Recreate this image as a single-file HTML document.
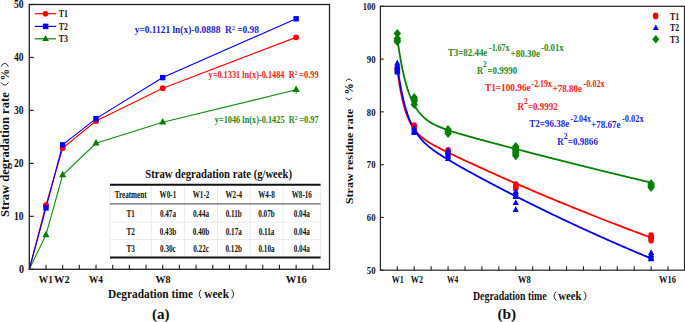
<!DOCTYPE html>
<html><head><meta charset="utf-8"><style>
html,body{margin:0;padding:0;background:#fff;}
svg{display:block;}
text{font-family:"Liberation Serif",serif;font-weight:bold;}
</style></head><body>
<svg width="685" height="322" viewBox="0 0 685 322">
<rect width="685" height="322" fill="#fff"/>
<rect x="29.3" y="4.5" width="300.2" height="264.8" fill="none" stroke="#222" stroke-width="1.3"/>
<line x1="29.3" y1="269.30" x2="33.7" y2="269.30" stroke="#222" stroke-width="1.2"/>
<text x="24.1" y="273.2" font-size="11.6" fill="#111" text-anchor="end" textLength="5.0" lengthAdjust="spacingAndGlyphs" >0</text>
<line x1="29.3" y1="216.34" x2="33.7" y2="216.34" stroke="#222" stroke-width="1.2"/>
<text x="23.6" y="220.24" font-size="11.6" fill="#111" text-anchor="end" textLength="9.6" lengthAdjust="spacingAndGlyphs" >10</text>
<line x1="29.3" y1="163.38" x2="33.7" y2="163.38" stroke="#222" stroke-width="1.2"/>
<text x="23.6" y="167.28" font-size="11.6" fill="#111" text-anchor="end" textLength="9.6" lengthAdjust="spacingAndGlyphs" >20</text>
<line x1="29.3" y1="110.42" x2="33.7" y2="110.42" stroke="#222" stroke-width="1.2"/>
<text x="23.6" y="114.32" font-size="11.6" fill="#111" text-anchor="end" textLength="9.6" lengthAdjust="spacingAndGlyphs" >30</text>
<line x1="29.3" y1="57.46" x2="33.7" y2="57.46" stroke="#222" stroke-width="1.2"/>
<text x="23.6" y="61.36" font-size="11.6" fill="#111" text-anchor="end" textLength="9.6" lengthAdjust="spacingAndGlyphs" >40</text>
<line x1="29.3" y1="4.50" x2="33.7" y2="4.50" stroke="#222" stroke-width="1.2"/>
<text x="23.6" y="8.4" font-size="11.6" fill="#111" text-anchor="end" textLength="9.6" lengthAdjust="spacingAndGlyphs" >50</text>
<line x1="45.98" y1="269.3" x2="45.98" y2="264.8" stroke="#222" stroke-width="1.1"/>
<line x1="62.66" y1="269.3" x2="62.66" y2="264.8" stroke="#222" stroke-width="1.1"/>
<line x1="79.33" y1="269.3" x2="79.33" y2="264.8" stroke="#222" stroke-width="1.1"/>
<line x1="96.01" y1="269.3" x2="96.01" y2="264.8" stroke="#222" stroke-width="1.1"/>
<line x1="112.69" y1="269.3" x2="112.69" y2="264.8" stroke="#222" stroke-width="1.1"/>
<line x1="129.37" y1="269.3" x2="129.37" y2="264.8" stroke="#222" stroke-width="1.1"/>
<line x1="146.04" y1="269.3" x2="146.04" y2="264.8" stroke="#222" stroke-width="1.1"/>
<line x1="162.72" y1="269.3" x2="162.72" y2="264.8" stroke="#222" stroke-width="1.1"/>
<line x1="179.40" y1="269.3" x2="179.40" y2="264.8" stroke="#222" stroke-width="1.1"/>
<line x1="196.08" y1="269.3" x2="196.08" y2="264.8" stroke="#222" stroke-width="1.1"/>
<line x1="212.76" y1="269.3" x2="212.76" y2="264.8" stroke="#222" stroke-width="1.1"/>
<line x1="229.43" y1="269.3" x2="229.43" y2="264.8" stroke="#222" stroke-width="1.1"/>
<line x1="246.11" y1="269.3" x2="246.11" y2="264.8" stroke="#222" stroke-width="1.1"/>
<line x1="262.79" y1="269.3" x2="262.79" y2="264.8" stroke="#222" stroke-width="1.1"/>
<line x1="279.47" y1="269.3" x2="279.47" y2="264.8" stroke="#222" stroke-width="1.1"/>
<line x1="296.14" y1="269.3" x2="296.14" y2="264.8" stroke="#222" stroke-width="1.1"/>
<line x1="312.82" y1="269.3" x2="312.82" y2="264.8" stroke="#222" stroke-width="1.1"/>
<text x="38.8" y="283.3" font-size="11" fill="#111" text-anchor="start" textLength="14.0" lengthAdjust="spacingAndGlyphs" >W1</text>
<text x="54" y="283.3" font-size="11" fill="#111" text-anchor="start" textLength="15.7" lengthAdjust="spacingAndGlyphs" >W2</text>
<text x="89" y="283.3" font-size="11" fill="#111" text-anchor="start" textLength="14" lengthAdjust="spacingAndGlyphs" >W4</text>
<text x="155.4" y="283.3" font-size="11" fill="#111" text-anchor="start" textLength="15.2" lengthAdjust="spacingAndGlyphs" >W8</text>
<text x="285.7" y="283.3" font-size="11" fill="#111" text-anchor="start" textLength="21.0" lengthAdjust="spacingAndGlyphs" >W16</text>
<polyline points="29.30,269.30 45.98,234.88 62.66,175.03 96.01,143.26 162.72,122.28 296.14,89.77" fill="none" stroke="#109010" stroke-width="1.15"/>
<polyline points="29.30,269.30 45.98,205.22 62.66,148.02 96.01,121.01 162.72,88.18 296.14,37.34" fill="none" stroke="#ff0000" stroke-width="1.15"/>
<polyline points="29.30,269.30 45.98,207.87 62.66,144.84 96.01,118.63 162.72,77.58 296.14,18.80" fill="none" stroke="#0000ff" stroke-width="1.15"/>
<line x1="296.14" y1="90.77" x2="296.14" y2="93.97" stroke="#008000" stroke-width="0.8"/>
<polygon points="45.98,230.72 42.38,237.22 49.58,237.22" fill="#008000"/>
<polygon points="62.66,170.87 59.06,177.37 66.26,177.37" fill="#008000"/>
<polygon points="96.01,139.10 92.41,145.60 99.61,145.60" fill="#008000"/>
<polygon points="162.72,118.12 159.12,124.62 166.32,124.62" fill="#008000"/>
<polygon points="296.14,85.61 292.54,92.11 299.74,92.11" fill="#008000"/>
<circle cx="45.98" cy="205.22" r="2.95" fill="#ff0000"/>
<circle cx="62.66" cy="148.02" r="2.95" fill="#ff0000"/>
<circle cx="96.01" cy="121.01" r="2.95" fill="#ff0000"/>
<circle cx="162.72" cy="88.18" r="2.95" fill="#ff0000"/>
<circle cx="296.14" cy="37.34" r="2.95" fill="#ff0000"/>
<rect x="43.28" y="205.17" width="5.4" height="5.4" fill="#0000ff"/>
<rect x="59.96" y="142.14" width="5.4" height="5.4" fill="#0000ff"/>
<rect x="93.31" y="115.93" width="5.4" height="5.4" fill="#0000ff"/>
<rect x="160.02" y="74.88" width="5.4" height="5.4" fill="#0000ff"/>
<rect x="293.44" y="16.10" width="5.4" height="5.4" fill="#0000ff"/>
<line x1="34.7" y1="13.7" x2="56.1" y2="13.7" stroke="#ff0000" stroke-width="1.2"/>
<circle cx="45.5" cy="13.7" r="2.8" fill="#ff0000"/>
<text x="58.8" y="17.0" font-size="10" fill="#111" text-anchor="start" textLength="9.1" lengthAdjust="spacingAndGlyphs" >T1</text>
<line x1="34.7" y1="26.4" x2="56.1" y2="26.4" stroke="#0000ff" stroke-width="1.2"/>
<rect x="42.9" y="23.599999999999998" width="5.5" height="5.5" fill="#0000ff"/>
<text x="58.8" y="29.7" font-size="10" fill="#111" text-anchor="start" textLength="9.1" lengthAdjust="spacingAndGlyphs" >T2</text>
<line x1="34.7" y1="38.8" x2="56.1" y2="38.8" stroke="#008000" stroke-width="1.2"/>
<polygon points="45.60,34.90 42.30,41.00 48.90,41.00" fill="#008000"/>
<text x="58.8" y="42.099999999999994" font-size="10" fill="#111" text-anchor="start" textLength="9.1" lengthAdjust="spacingAndGlyphs" >T3</text>
<text x="134.7" y="33" font-size="10.5" fill="#2323d0" text-anchor="start" textLength="124.3" lengthAdjust="spacingAndGlyphs" >y=0.1121 ln(x)-0.0888&#160;&#160;R<tspan font-size="6.5" dy="-3.5">2</tspan><tspan dy="3.5"> =0.98</tspan></text>
<text x="208.5" y="78" font-size="9.6" fill="#ee1c1c" text-anchor="start" textLength="110.1" lengthAdjust="spacingAndGlyphs" >y=0.1331 ln(x)-0.1484&#160;&#160;R<tspan font-size="6" dy="-3.2">2</tspan><tspan dy="3.2"> =0.99</tspan></text>
<text x="214.8" y="123" font-size="9.6" fill="#238a23" text-anchor="start" textLength="103.8" lengthAdjust="spacingAndGlyphs" >y=1046 ln(x)-0.1425&#160;&#160;R<tspan font-size="6" dy="-3.2">2</tspan><tspan dy="3.2"> =0.97</tspan></text>
<text x="145.3" y="177.8" font-size="12" fill="#111" text-anchor="start" textLength="146.7" lengthAdjust="spacingAndGlyphs" >Straw degradation rate (g/week)</text>
<line x1="110" y1="185.5" x2="110" y2="256.5" stroke="#e6e6e6" stroke-width="0.8"/>
<line x1="151.3" y1="185.5" x2="151.3" y2="256.5" stroke="#e6e6e6" stroke-width="0.8"/>
<line x1="184.6" y1="185.5" x2="184.6" y2="256.5" stroke="#e6e6e6" stroke-width="0.8"/>
<line x1="217.5" y1="185.5" x2="217.5" y2="256.5" stroke="#e6e6e6" stroke-width="0.8"/>
<line x1="250" y1="185.5" x2="250" y2="256.5" stroke="#e6e6e6" stroke-width="0.8"/>
<line x1="283" y1="185.5" x2="283" y2="256.5" stroke="#e6e6e6" stroke-width="0.8"/>
<line x1="320.6" y1="185.5" x2="320.6" y2="256.5" stroke="#e6e6e6" stroke-width="0.8"/>
<line x1="110" y1="222.2" x2="320.6" y2="222.2" stroke="#e6e6e6" stroke-width="0.8"/>
<line x1="110" y1="239.5" x2="320.6" y2="239.5" stroke="#e6e6e6" stroke-width="0.8"/>
<line x1="110" y1="184.8" x2="320.6" y2="184.8" stroke="#111" stroke-width="2"/>
<line x1="110" y1="203.9" x2="320.6" y2="203.9" stroke="#444" stroke-width="1"/>
<line x1="110" y1="257.5" x2="320.6" y2="257.5" stroke="#111" stroke-width="2"/>
<text x="130.65" y="198.3" font-size="9.3" fill="#111" text-anchor="middle" textLength="31.95" lengthAdjust="spacingAndGlyphs" >Treatment</text>
<text x="167.95" y="198.3" font-size="9.3" fill="#111" text-anchor="middle" textLength="16.71" lengthAdjust="spacingAndGlyphs" >W0-1</text>
<text x="201.05" y="198.3" font-size="9.3" fill="#111" text-anchor="middle" textLength="16.71" lengthAdjust="spacingAndGlyphs" >W1-2</text>
<text x="233.75" y="198.3" font-size="9.3" fill="#111" text-anchor="middle" textLength="16.71" lengthAdjust="spacingAndGlyphs" >W2-4</text>
<text x="266.5" y="198.3" font-size="9.3" fill="#111" text-anchor="middle" textLength="16.71" lengthAdjust="spacingAndGlyphs" >W4-8</text>
<text x="301.8" y="198.3" font-size="9.3" fill="#111" text-anchor="middle" textLength="20.29" lengthAdjust="spacingAndGlyphs" >W8-16</text>
<text x="130.65" y="217.3" font-size="9.3" fill="#111" text-anchor="middle" textLength="8.36" lengthAdjust="spacingAndGlyphs" >T1</text>
<text x="167.95" y="217.3" font-size="9.3" fill="#111" text-anchor="middle" textLength="16.11" lengthAdjust="spacingAndGlyphs" >0.47a</text>
<text x="201.05" y="217.3" font-size="9.3" fill="#111" text-anchor="middle" textLength="16.11" lengthAdjust="spacingAndGlyphs" >0.44a</text>
<text x="233.75" y="217.3" font-size="9.3" fill="#111" text-anchor="middle" textLength="16.12" lengthAdjust="spacingAndGlyphs" >0.11b</text>
<text x="266.5" y="217.3" font-size="9.3" fill="#111" text-anchor="middle" textLength="16.51" lengthAdjust="spacingAndGlyphs" >0.07b</text>
<text x="301.8" y="217.3" font-size="9.3" fill="#111" text-anchor="middle" textLength="16.11" lengthAdjust="spacingAndGlyphs" >0.04a</text>
<text x="130.65" y="234.7" font-size="9.3" fill="#111" text-anchor="middle" textLength="8.36" lengthAdjust="spacingAndGlyphs" >T2</text>
<text x="167.95" y="234.7" font-size="9.3" fill="#111" text-anchor="middle" textLength="16.51" lengthAdjust="spacingAndGlyphs" >0.43b</text>
<text x="201.05" y="234.7" font-size="9.3" fill="#111" text-anchor="middle" textLength="16.51" lengthAdjust="spacingAndGlyphs" >0.40b</text>
<text x="233.75" y="234.7" font-size="9.3" fill="#111" text-anchor="middle" textLength="16.11" lengthAdjust="spacingAndGlyphs" >0.17a</text>
<text x="266.5" y="234.7" font-size="9.3" fill="#111" text-anchor="middle" textLength="15.72" lengthAdjust="spacingAndGlyphs" >0.11a</text>
<text x="301.8" y="234.7" font-size="9.3" fill="#111" text-anchor="middle" textLength="16.11" lengthAdjust="spacingAndGlyphs" >0.04a</text>
<text x="130.65" y="252" font-size="9.3" fill="#111" text-anchor="middle" textLength="8.36" lengthAdjust="spacingAndGlyphs" >T3</text>
<text x="167.95" y="252" font-size="9.3" fill="#111" text-anchor="middle" textLength="15.71" lengthAdjust="spacingAndGlyphs" >0.30c</text>
<text x="201.05" y="252" font-size="9.3" fill="#111" text-anchor="middle" textLength="15.71" lengthAdjust="spacingAndGlyphs" >0.22c</text>
<text x="233.75" y="252" font-size="9.3" fill="#111" text-anchor="middle" textLength="16.51" lengthAdjust="spacingAndGlyphs" >0.12b</text>
<text x="266.5" y="252" font-size="9.3" fill="#111" text-anchor="middle" textLength="16.11" lengthAdjust="spacingAndGlyphs" >0.10a</text>
<text x="301.8" y="252" font-size="9.3" fill="#111" text-anchor="middle" textLength="16.11" lengthAdjust="spacingAndGlyphs" >0.04a</text>
<g transform="translate(9.0,217) rotate(-90)">
<text x="0" y="0" font-size="12.4" fill="#111" text-anchor="start" textLength="124.7" lengthAdjust="spacingAndGlyphs" >Straw degradation rate</text>
<text x="136.6" y="-0.3" font-size="12.4" fill="#111" text-anchor="start" textLength="11.6" lengthAdjust="spacingAndGlyphs" >%</text>
</g>
<path d="M1.05,82.35 Q4.75,87.95 8.45,82.35" fill="none" stroke="#111" stroke-width="0.9"/>
<path d="M1.05,66.55 Q4.75,59.95 8.45,66.55" fill="none" stroke="#111" stroke-width="0.9"/>
<text x="108" y="298.2" font-size="12.4" fill="#111" text-anchor="start" textLength="85" lengthAdjust="spacingAndGlyphs" >Degradation time</text>
<path d="M201.05,289.65 Q197.25,294.05 201.05,298.45" fill="none" stroke="#111" stroke-width="0.9"/>
<path d="M231.65,289.65 Q235.45,294.05 231.65,298.45" fill="none" stroke="#111" stroke-width="0.9"/>
<text x="204.3" y="297.9" font-size="12.4" fill="#111" text-anchor="start" textLength="24.7" lengthAdjust="spacingAndGlyphs" >week</text>
<text x="152" y="318.6" font-size="14" fill="#111" text-anchor="start" textLength="17.6" lengthAdjust="spacingAndGlyphs" >(a)</text>
<rect x="380.4" y="6.3" width="304.1" height="263.9" fill="none" stroke="#222" stroke-width="1.2"/>
<line x1="380.4" y1="270.20" x2="383.79999999999995" y2="270.20" stroke="#222" stroke-width="1.1"/>
<text x="375.5" y="274.0" font-size="10.4" fill="#111" text-anchor="end" textLength="8.7" lengthAdjust="spacingAndGlyphs" >50</text>
<line x1="380.4" y1="217.42" x2="383.79999999999995" y2="217.42" stroke="#222" stroke-width="1.1"/>
<text x="375.5" y="221.22" font-size="10.4" fill="#111" text-anchor="end" textLength="8.7" lengthAdjust="spacingAndGlyphs" >60</text>
<line x1="380.4" y1="164.64" x2="383.79999999999995" y2="164.64" stroke="#222" stroke-width="1.1"/>
<text x="375.5" y="168.44" font-size="10.4" fill="#111" text-anchor="end" textLength="8.7" lengthAdjust="spacingAndGlyphs" >70</text>
<line x1="380.4" y1="111.86" x2="383.79999999999995" y2="111.86" stroke="#222" stroke-width="1.1"/>
<text x="375.5" y="115.66" font-size="10.4" fill="#111" text-anchor="end" textLength="8.7" lengthAdjust="spacingAndGlyphs" >80</text>
<line x1="380.4" y1="59.08" x2="383.79999999999995" y2="59.08" stroke="#222" stroke-width="1.1"/>
<text x="375.5" y="62.88" font-size="10.4" fill="#111" text-anchor="end" textLength="8.7" lengthAdjust="spacingAndGlyphs" >90</text>
<line x1="380.4" y1="6.30" x2="383.79999999999995" y2="6.30" stroke="#222" stroke-width="1.1"/>
<text x="375.5" y="10.1" font-size="10.4" fill="#111" text-anchor="end" textLength="12.7" lengthAdjust="spacingAndGlyphs" >100</text>
<line x1="397.32" y1="270.2" x2="397.32" y2="266.2" stroke="#222" stroke-width="1.1"/>
<line x1="414.24" y1="270.2" x2="414.24" y2="266.2" stroke="#222" stroke-width="1.1"/>
<line x1="431.16" y1="270.2" x2="431.16" y2="266.2" stroke="#222" stroke-width="1.1"/>
<line x1="448.08" y1="270.2" x2="448.08" y2="266.2" stroke="#222" stroke-width="1.1"/>
<line x1="465.00" y1="270.2" x2="465.00" y2="266.2" stroke="#222" stroke-width="1.1"/>
<line x1="481.92" y1="270.2" x2="481.92" y2="266.2" stroke="#222" stroke-width="1.1"/>
<line x1="498.84" y1="270.2" x2="498.84" y2="266.2" stroke="#222" stroke-width="1.1"/>
<line x1="515.76" y1="270.2" x2="515.76" y2="266.2" stroke="#222" stroke-width="1.1"/>
<line x1="532.68" y1="270.2" x2="532.68" y2="266.2" stroke="#222" stroke-width="1.1"/>
<line x1="549.60" y1="270.2" x2="549.60" y2="266.2" stroke="#222" stroke-width="1.1"/>
<line x1="566.52" y1="270.2" x2="566.52" y2="266.2" stroke="#222" stroke-width="1.1"/>
<line x1="583.44" y1="270.2" x2="583.44" y2="266.2" stroke="#222" stroke-width="1.1"/>
<line x1="600.36" y1="270.2" x2="600.36" y2="266.2" stroke="#222" stroke-width="1.1"/>
<line x1="617.28" y1="270.2" x2="617.28" y2="266.2" stroke="#222" stroke-width="1.1"/>
<line x1="634.20" y1="270.2" x2="634.20" y2="266.2" stroke="#222" stroke-width="1.1"/>
<line x1="651.12" y1="270.2" x2="651.12" y2="266.2" stroke="#222" stroke-width="1.1"/>
<line x1="668.04" y1="270.2" x2="668.04" y2="266.2" stroke="#222" stroke-width="1.1"/>
<text x="391.7" y="283" font-size="9.5" fill="#111" text-anchor="start" textLength="12.1" lengthAdjust="spacingAndGlyphs" >W1</text>
<text x="410.8" y="283" font-size="9.5" fill="#111" text-anchor="start" textLength="12.4" lengthAdjust="spacingAndGlyphs" >W2</text>
<text x="447" y="283" font-size="9.5" fill="#111" text-anchor="start" textLength="11.3" lengthAdjust="spacingAndGlyphs" >W4</text>
<text x="517.9" y="283" font-size="9.5" fill="#111" text-anchor="start" textLength="12.8" lengthAdjust="spacingAndGlyphs" >W8</text>
<text x="659" y="283" font-size="9.5" fill="#111" text-anchor="start" textLength="17" lengthAdjust="spacingAndGlyphs" >W16</text>
<polyline points="397.32,38.28 398.60,47.33 399.87,55.43 401.15,62.66 402.42,69.14 403.70,74.93 404.97,80.13 406.25,84.79 407.52,88.97 408.80,92.73 410.07,96.12 411.35,99.16 412.62,101.91 413.90,104.40 415.18,106.65 416.45,108.68 417.73,110.54 419.00,112.22 420.28,113.76 421.55,115.17 422.83,116.46 424.10,117.64 425.38,118.74 426.65,119.75 427.93,120.69 429.20,121.56 430.48,122.38 431.76,123.14 433.03,123.86 434.31,124.54 435.58,125.18 436.86,125.78 438.13,126.36 439.41,126.92 440.68,127.45 441.96,127.96 443.23,128.45 444.51,128.93 445.78,129.39 447.06,129.84 448.34,130.28 449.61,130.70 450.89,131.12 452.16,131.53 453.44,131.93 454.71,132.33 455.99,132.72 457.26,133.10 458.54,133.49 459.81,133.86 461.09,134.23 462.36,134.60 463.64,134.97 464.91,135.33 466.19,135.69 467.47,136.05 468.74,136.41 470.02,136.76 471.29,137.12 472.57,137.47 473.84,137.82 475.12,138.17 476.39,138.52 477.67,138.86 478.94,139.21 480.22,139.56 481.49,139.90 482.77,140.24 484.05,140.59 485.32,140.93 486.60,141.27 487.87,141.61 489.15,141.95 490.42,142.29 491.70,142.63 492.97,142.97 494.25,143.31 495.52,143.65 496.80,143.98 498.07,144.32 499.35,144.66 500.63,144.99 501.90,145.33 503.18,145.67 504.45,146.00 505.73,146.34 507.00,146.67 508.28,147.00 509.55,147.34 510.83,147.67 512.10,148.01 513.38,148.34 514.65,148.67 515.93,149.00 517.21,149.34 518.48,149.67 519.76,150.00 521.03,150.33 522.31,150.66 523.58,150.99 524.86,151.32 526.13,151.65 527.41,151.98 528.68,152.31 529.96,152.64 531.23,152.97 532.51,153.30 533.79,153.63 535.06,153.95 536.34,154.28 537.61,154.61 538.89,154.94 540.16,155.26 541.44,155.59 542.71,155.92 543.99,156.24 545.26,156.57 546.54,156.89 547.81,157.22 549.09,157.54 550.37,157.87 551.64,158.19 552.92,158.52 554.19,158.84 555.47,159.16 556.74,159.49 558.02,159.81 559.29,160.13 560.57,160.46 561.84,160.78 563.12,161.10 564.39,161.42 565.67,161.74 566.95,162.06 568.22,162.38 569.50,162.70 570.77,163.02 572.05,163.34 573.32,163.66 574.60,163.98 575.87,164.30 577.15,164.62 578.42,164.94 579.70,165.26 580.97,165.58 582.25,165.89 583.53,166.21 584.80,166.53 586.08,166.84 587.35,167.16 588.63,167.48 589.90,167.79 591.18,168.11 592.45,168.42 593.73,168.74 595.00,169.06 596.28,169.37 597.55,169.68 598.83,170.00 600.10,170.31 601.38,170.63 602.66,170.94 603.93,171.25 605.21,171.56 606.48,171.88 607.76,172.19 609.03,172.50 610.31,172.81 611.58,173.12 612.86,173.44 614.13,173.75 615.41,174.06 616.68,174.37 617.96,174.68 619.24,174.99 620.51,175.30 621.79,175.61 623.06,175.92 624.34,176.22 625.61,176.53 626.89,176.84 628.16,177.15 629.44,177.46 630.71,177.76 631.99,178.07 633.26,178.38 634.54,178.68 635.82,178.99 637.09,179.30 638.37,179.60 639.64,179.91 640.92,180.21 642.19,180.52 643.47,180.82 644.74,181.13 646.02,181.43 647.29,181.74 648.57,182.04 649.84,182.34 651.12,182.65" fill="none" stroke="#008000" stroke-width="1.8"/>
<polyline points="397.32,69.61 398.60,78.82 399.87,86.77 401.15,93.64 402.42,99.59 403.70,104.75 404.97,109.25 406.25,113.18 407.52,116.63 408.80,119.65 410.07,122.33 411.35,124.70 412.62,126.82 413.90,128.71 415.18,130.42 416.45,131.97 417.73,133.38 419.00,134.68 420.28,135.88 421.55,136.99 422.83,138.03 424.10,139.00 425.38,139.93 426.65,140.81 427.93,141.65 429.20,142.45 430.48,143.23 431.76,143.98 433.03,144.72 434.31,145.43 435.58,146.13 436.86,146.81 438.13,147.49 439.41,148.15 440.68,148.81 441.96,149.45 443.23,150.10 444.51,150.73 445.78,151.36 447.06,151.99 448.34,152.61 449.61,153.23 450.89,153.84 452.16,154.46 453.44,155.07 454.71,155.67 455.99,156.28 457.26,156.88 458.54,157.49 459.81,158.09 461.09,158.68 462.36,159.28 463.64,159.88 464.91,160.47 466.19,161.07 467.47,161.66 468.74,162.25 470.02,162.84 471.29,163.43 472.57,164.02 473.84,164.60 475.12,165.19 476.39,165.77 477.67,166.36 478.94,166.94 480.22,167.52 481.49,168.10 482.77,168.68 484.05,169.26 485.32,169.84 486.60,170.42 487.87,170.99 489.15,171.57 490.42,172.14 491.70,172.71 492.97,173.29 494.25,173.86 495.52,174.43 496.80,175.00 498.07,175.57 499.35,176.13 500.63,176.70 501.90,177.27 503.18,177.83 504.45,178.40 505.73,178.96 507.00,179.52 508.28,180.08 509.55,180.64 510.83,181.20 512.10,181.76 513.38,182.32 514.65,182.88 515.93,183.43 517.21,183.99 518.48,184.54 519.76,185.10 521.03,185.65 522.31,186.20 523.58,186.75 524.86,187.30 526.13,187.85 527.41,188.40 528.68,188.95 529.96,189.49 531.23,190.04 532.51,190.58 533.79,191.13 535.06,191.67 536.34,192.21 537.61,192.76 538.89,193.30 540.16,193.84 541.44,194.37 542.71,194.91 543.99,195.45 545.26,195.99 546.54,196.52 547.81,197.06 549.09,197.59 550.37,198.12 551.64,198.65 552.92,199.19 554.19,199.72 555.47,200.25 556.74,200.77 558.02,201.30 559.29,201.83 560.57,202.36 561.84,202.88 563.12,203.40 564.39,203.93 565.67,204.45 566.95,204.97 568.22,205.49 569.50,206.01 570.77,206.53 572.05,207.05 573.32,207.57 574.60,208.09 575.87,208.60 577.15,209.12 578.42,209.63 579.70,210.15 580.97,210.66 582.25,211.17 583.53,211.68 584.80,212.20 586.08,212.71 587.35,213.21 588.63,213.72 589.90,214.23 591.18,214.74 592.45,215.24 593.73,215.75 595.00,216.25 596.28,216.75 597.55,217.26 598.83,217.76 600.10,218.26 601.38,218.76 602.66,219.26 603.93,219.76 605.21,220.26 606.48,220.75 607.76,221.25 609.03,221.74 610.31,222.24 611.58,222.73 612.86,223.23 614.13,223.72 615.41,224.21 616.68,224.70 617.96,225.19 619.24,225.68 620.51,226.17 621.79,226.65 623.06,227.14 624.34,227.63 625.61,228.11 626.89,228.60 628.16,229.08 629.44,229.56 630.71,230.05 631.99,230.53 633.26,231.01 634.54,231.49 635.82,231.97 637.09,232.45 638.37,232.92 639.64,233.40 640.92,233.88 642.19,234.35 643.47,234.83 644.74,235.30 646.02,235.77 647.29,236.25 648.57,236.72 649.84,237.19 651.12,237.66" fill="none" stroke="#ff0000" stroke-width="1.8"/>
<polyline points="397.32,66.16 398.60,74.89 399.87,82.63 401.15,89.51 402.42,95.62 403.70,101.08 404.97,105.95 406.25,110.31 407.52,114.22 408.80,117.74 410.07,120.92 411.35,123.80 412.62,126.41 413.90,128.79 415.18,130.97 416.45,132.97 417.73,134.81 419.00,136.52 420.28,138.11 421.55,139.59 422.83,140.98 424.10,142.29 425.38,143.53 426.65,144.70 427.93,145.82 429.20,146.89 430.48,147.92 431.76,148.91 433.03,149.87 434.31,150.80 435.58,151.70 436.86,152.58 438.13,153.44 439.41,154.28 440.68,155.11 441.96,155.92 443.23,156.73 444.51,157.52 445.78,158.30 447.06,159.07 448.34,159.83 449.61,160.59 450.89,161.34 452.16,162.08 453.44,162.82 454.71,163.56 455.99,164.29 457.26,165.01 458.54,165.74 459.81,166.46 461.09,167.17 462.36,167.89 463.64,168.60 464.91,169.31 466.19,170.01 467.47,170.72 468.74,171.42 470.02,172.12 471.29,172.82 472.57,173.51 473.84,174.21 475.12,174.90 476.39,175.59 477.67,176.28 478.94,176.97 480.22,177.65 481.49,178.34 482.77,179.02 484.05,179.70 485.32,180.38 486.60,181.06 487.87,181.74 489.15,182.41 490.42,183.09 491.70,183.76 492.97,184.43 494.25,185.11 495.52,185.77 496.80,186.44 498.07,187.11 499.35,187.77 500.63,188.44 501.90,189.10 503.18,189.76 504.45,190.42 505.73,191.08 507.00,191.74 508.28,192.40 509.55,193.05 510.83,193.70 512.10,194.36 513.38,195.01 514.65,195.66 515.93,196.31 517.21,196.95 518.48,197.60 519.76,198.24 521.03,198.89 522.31,199.53 523.58,200.17 524.86,200.81 526.13,201.45 527.41,202.09 528.68,202.73 529.96,203.36 531.23,203.99 532.51,204.63 533.79,205.26 535.06,205.89 536.34,206.52 537.61,207.15 538.89,207.77 540.16,208.40 541.44,209.02 542.71,209.65 543.99,210.27 545.26,210.89 546.54,211.51 547.81,212.13 549.09,212.74 550.37,213.36 551.64,213.97 552.92,214.59 554.19,215.20 555.47,215.81 556.74,216.42 558.02,217.03 559.29,217.64 560.57,218.24 561.84,218.85 563.12,219.45 564.39,220.06 565.67,220.66 566.95,221.26 568.22,221.86 569.50,222.46 570.77,223.05 572.05,223.65 573.32,224.25 574.60,224.84 575.87,225.43 577.15,226.02 578.42,226.61 579.70,227.20 580.97,227.79 582.25,228.38 583.53,228.96 584.80,229.55 586.08,230.13 587.35,230.72 588.63,231.30 589.90,231.88 591.18,232.46 592.45,233.04 593.73,233.61 595.00,234.19 596.28,234.76 597.55,235.34 598.83,235.91 600.10,236.48 601.38,237.05 602.66,237.62 603.93,238.19 605.21,238.76 606.48,239.32 607.76,239.89 609.03,240.45 610.31,241.01 611.58,241.58 612.86,242.14 614.13,242.70 615.41,243.25 616.68,243.81 617.96,244.37 619.24,244.92 620.51,245.48 621.79,246.03 623.06,246.58 624.34,247.13 625.61,247.68 626.89,248.23 628.16,248.78 629.44,249.33 630.71,249.87 631.99,250.42 633.26,250.96 634.54,251.50 635.82,252.05 637.09,252.59 638.37,253.13 639.64,253.67 640.92,254.20 642.19,254.74 643.47,255.27 644.74,255.81 646.02,256.34 647.29,256.87 648.57,257.41 649.84,257.94 651.12,258.47" fill="none" stroke="#0000ff" stroke-width="1.8"/>
<polygon points="397.32,29.1 401.02,33.6 397.32,38.1 393.62,33.6" fill="#008000"/>
<polygon points="397.32,34.1 401.02,38.6 397.32,43.1 393.62,38.6" fill="#008000"/>
<polygon points="397.32,35.8 401.02,40.3 397.32,44.8 393.62,40.3" fill="#008000"/>
<polygon points="397.32,37.3 401.02,41.8 397.32,46.3 393.62,41.8" fill="#008000"/>
<polygon points="414.24,93.1 417.94,97.6 414.24,102.1 410.54,97.6" fill="#008000"/>
<polygon points="414.24,95.0 417.94,99.5 414.24,104.0 410.54,99.5" fill="#008000"/>
<polygon points="414.24,96.5 417.94,101 414.24,105.5 410.54,101" fill="#008000"/>
<polygon points="414.24,99.9 417.94,104.4 414.24,108.9 410.54,104.4" fill="#008000"/>
<polygon points="448.08,124.9 451.78,129.4 448.08,133.9 444.38,129.4" fill="#008000"/>
<polygon points="448.08,127.0 451.78,131.5 448.08,136.0 444.38,131.5" fill="#008000"/>
<polygon points="448.08,129.0 451.78,133.5 448.08,138.0 444.38,133.5" fill="#008000"/>
<polygon points="515.76,142.0 519.46,146.5 515.76,151.0 512.06,146.5" fill="#008000"/>
<polygon points="515.76,143.5 519.46,148 515.76,152.5 512.06,148" fill="#008000"/>
<polygon points="515.76,145.0 519.46,149.5 515.76,154.0 512.06,149.5" fill="#008000"/>
<polygon points="515.76,146.5 519.46,151 515.76,155.5 512.06,151" fill="#008000"/>
<polygon points="515.76,148.0 519.46,152.5 515.76,157.0 512.06,152.5" fill="#008000"/>
<polygon points="515.76,149.5 519.46,154 515.76,158.5 512.06,154" fill="#008000"/>
<polygon points="515.76,151.3 519.46,155.8 515.76,160.3 512.06,155.8" fill="#008000"/>
<polygon points="651.12,179.2 654.82,183.7 651.12,188.2 647.42,183.7" fill="#008000"/>
<polygon points="651.12,180.5 654.82,185 651.12,189.5 647.42,185" fill="#008000"/>
<polygon points="651.12,181.7 654.82,186.2 651.12,190.7 647.42,186.2" fill="#008000"/>
<polygon points="651.12,183.0 654.82,187.5 651.12,192.0 647.42,187.5" fill="#008000"/>
<ellipse cx="397.32" cy="68.5" rx="2.8" ry="3.35" fill="#ff0000"/>
<ellipse cx="397.32" cy="70" rx="2.8" ry="3.35" fill="#ff0000"/>
<ellipse cx="414.24" cy="125.6" rx="2.8" ry="3.35" fill="#ff0000"/>
<ellipse cx="414.24" cy="127" rx="2.8" ry="3.35" fill="#ff0000"/>
<ellipse cx="414.24" cy="128.3" rx="2.8" ry="3.35" fill="#ff0000"/>
<ellipse cx="448.08" cy="150.4" rx="2.8" ry="3.35" fill="#ff0000"/>
<ellipse cx="448.08" cy="151.8" rx="2.8" ry="3.35" fill="#ff0000"/>
<ellipse cx="448.08" cy="153.2" rx="2.8" ry="3.35" fill="#ff0000"/>
<ellipse cx="515.76" cy="184.6" rx="2.8" ry="3.35" fill="#ff0000"/>
<ellipse cx="515.76" cy="186.5" rx="2.8" ry="3.35" fill="#ff0000"/>
<ellipse cx="515.76" cy="188.4" rx="2.8" ry="3.35" fill="#ff0000"/>
<ellipse cx="651.12" cy="235.7" rx="2.8" ry="3.35" fill="#ff0000"/>
<ellipse cx="651.12" cy="237" rx="2.8" ry="3.35" fill="#ff0000"/>
<ellipse cx="651.12" cy="238.5" rx="2.8" ry="3.35" fill="#ff0000"/>
<ellipse cx="651.12" cy="240.2" rx="2.8" ry="3.35" fill="#ff0000"/>
<polygon points="397.32,59.6 394.21999999999997,65.5 400.42,65.5" fill="#0000ff"/>
<polygon points="397.32,61.5 394.21999999999997,67.4 400.42,67.4" fill="#0000ff"/>
<polygon points="397.32,63.5 394.21999999999997,69.4 400.42,69.4" fill="#0000ff"/>
<polygon points="397.32,65.5 394.21999999999997,71.4 400.42,71.4" fill="#0000ff"/>
<polygon points="397.32,67.2 394.21999999999997,73.10000000000001 400.42,73.10000000000001" fill="#0000ff"/>
<polygon points="397.32,68.6 394.21999999999997,74.5 400.42,74.5" fill="#0000ff"/>
<polygon points="414.24,124.6 411.14,130.5 417.34000000000003,130.5" fill="#0000ff"/>
<polygon points="414.24,126.5 411.14,132.4 417.34000000000003,132.4" fill="#0000ff"/>
<polygon points="414.24,128.2 411.14,134.1 417.34000000000003,134.1" fill="#0000ff"/>
<polygon points="414.24,129.2 411.14,135.1 417.34000000000003,135.1" fill="#0000ff"/>
<polygon points="448.08,147.3 444.97999999999996,153.20000000000002 451.18,153.20000000000002" fill="#0000ff"/>
<polygon points="448.08,149.3 444.97999999999996,155.20000000000002 451.18,155.20000000000002" fill="#0000ff"/>
<polygon points="448.08,151.3 444.97999999999996,157.20000000000002 451.18,157.20000000000002" fill="#0000ff"/>
<polygon points="448.08,153.2 444.97999999999996,159.1 451.18,159.1" fill="#0000ff"/>
<polygon points="448.08,155 444.97999999999996,160.9 451.18,160.9" fill="#0000ff"/>
<polygon points="515.76,188 512.66,193.9 518.86,193.9" fill="#0000ff"/>
<polygon points="515.76,190 512.66,195.9 518.86,195.9" fill="#0000ff"/>
<polygon points="515.76,192 512.66,197.9 518.86,197.9" fill="#0000ff"/>
<polygon points="515.76,193 512.66,198.9 518.86,198.9" fill="#0000ff"/>
<polygon points="515.76,199.2 512.66,205.1 518.86,205.1" fill="#0000ff"/>
<polygon points="515.76,206 512.66,211.9 518.86,211.9" fill="#0000ff"/>
<polygon points="651.12,249.2 648.02,255.1 654.22,255.1" fill="#0000ff"/>
<polygon points="651.12,251 648.02,256.9 654.22,256.9" fill="#0000ff"/>
<polygon points="651.12,252.8 648.02,258.7 654.22,258.7" fill="#0000ff"/>
<polygon points="651.12,254.5 648.02,260.4 654.22,260.4" fill="#0000ff"/>
<polygon points="651.12,255.3 648.02,261.2 654.22,261.2" fill="#0000ff"/>
<ellipse cx="655.6" cy="15.9" rx="2.8" ry="3.35" fill="#ff0000"/>
<polygon points="655.8,24.6 652.8,30.1 658.8,30.1" fill="#0000ff"/>
<polygon points="655.8,35.0 659.3,39.2 655.8,43.400000000000006 652.3,39.2" fill="#008000"/>
<text x="670.1" y="19.7" font-size="10" fill="#111" text-anchor="start" textLength="9.1" lengthAdjust="spacingAndGlyphs" >T1</text>
<text x="670.1" y="31" font-size="10" fill="#111" text-anchor="start" textLength="9.1" lengthAdjust="spacingAndGlyphs" >T2</text>
<text x="670.1" y="42.6" font-size="10" fill="#111" text-anchor="start" textLength="9.1" lengthAdjust="spacingAndGlyphs" >T3</text>
<text x="447.9" y="55.6" font-size="10.5" fill="#1e8a1e" text-anchor="start" textLength="39.4" lengthAdjust="spacingAndGlyphs" >T3=82.44e</text>
<text x="489" y="50.8" font-size="9.5" fill="#1e8a1e" text-anchor="start" textLength="20.5" lengthAdjust="spacingAndGlyphs" >-1.67x</text>
<text x="510.5" y="56.5" font-size="10.5" fill="#1e8a1e" text-anchor="start" textLength="29.5" lengthAdjust="spacingAndGlyphs" >+80.30e</text>
<text x="541" y="50.6" font-size="9.5" fill="#1e8a1e" text-anchor="start" textLength="22.7" lengthAdjust="spacingAndGlyphs" >-0.01x</text>
<text x="476.9" y="73.5" font-size="10.2" fill="#1e8a1e" text-anchor="start" textLength="6.2" lengthAdjust="spacingAndGlyphs" >R</text>
<text x="483.1" y="67.3" font-size="9" fill="#1e8a1e" text-anchor="start" textLength="3.8" lengthAdjust="spacingAndGlyphs" >2</text>
<text x="487.5" y="73.5" font-size="10" fill="#1e8a1e" text-anchor="start" textLength="29.6" lengthAdjust="spacingAndGlyphs" >=0.9990</text>
<text x="485.1" y="91.4" font-size="10.5" fill="#ff1a1a" text-anchor="start" textLength="45.5" lengthAdjust="spacingAndGlyphs" >T1=100.96e</text>
<text x="531.5" y="86.6" font-size="9.5" fill="#ff1a1a" text-anchor="start" textLength="20.5" lengthAdjust="spacingAndGlyphs" >-2.19x</text>
<text x="552.6" y="92.3" font-size="10.5" fill="#ff1a1a" text-anchor="start" textLength="29.5" lengthAdjust="spacingAndGlyphs" >+78.80e</text>
<text x="583.5" y="86.6" font-size="9.5" fill="#ff1a1a" text-anchor="start" textLength="21.2" lengthAdjust="spacingAndGlyphs" >-0.02x</text>
<text x="517.5" y="109.7" font-size="10.2" fill="#ff1a1a" text-anchor="start" textLength="6.5" lengthAdjust="spacingAndGlyphs" >R</text>
<text x="524" y="103.5" font-size="9" fill="#ff1a1a" text-anchor="start" textLength="3.8" lengthAdjust="spacingAndGlyphs" >2</text>
<text x="528" y="109.7" font-size="10" fill="#ff1a1a" text-anchor="start" textLength="29.6" lengthAdjust="spacingAndGlyphs" >=0.9992</text>
<text x="529.2" y="126.8" font-size="10.5" fill="#1f1fe6" text-anchor="start" textLength="40" lengthAdjust="spacingAndGlyphs" >T2=96.38e</text>
<text x="570.5" y="122" font-size="9.5" fill="#1f1fe6" text-anchor="start" textLength="20.5" lengthAdjust="spacingAndGlyphs" >-2.04x</text>
<text x="591" y="127.6" font-size="10.5" fill="#1f1fe6" text-anchor="start" textLength="29.5" lengthAdjust="spacingAndGlyphs" >+78.67e</text>
<text x="622" y="122" font-size="9.5" fill="#1f1fe6" text-anchor="start" textLength="21.7" lengthAdjust="spacingAndGlyphs" >-0.02x</text>
<text x="557.3" y="145.2" font-size="10.2" fill="#1f1fe6" text-anchor="start" textLength="6.4" lengthAdjust="spacingAndGlyphs" >R</text>
<text x="563.7" y="139.1" font-size="9" fill="#1f1fe6" text-anchor="start" textLength="3.8" lengthAdjust="spacingAndGlyphs" >2</text>
<text x="567.7" y="145.2" font-size="10" fill="#1f1fe6" text-anchor="start" textLength="30.3" lengthAdjust="spacingAndGlyphs" >=0.9866</text>
<g transform="translate(352.8,204.3) rotate(-90)">
<text x="0" y="0" font-size="11" fill="#111" text-anchor="start" textLength="95.5" lengthAdjust="spacingAndGlyphs" >Straw residue rate</text>
<text x="109.8" y="-0.3" font-size="11.8" fill="#111" text-anchor="start" textLength="11.2" lengthAdjust="spacingAndGlyphs" >%</text>
</g>
<path d="M345.85,97.65 Q348.90,102.05 351.95,97.65" fill="none" stroke="#111" stroke-width="0.9"/>
<path d="M345.85,81.15 Q348.90,76.75 351.95,81.15" fill="none" stroke="#111" stroke-width="0.9"/>
<text x="473" y="300.3" font-size="13" fill="#111" text-anchor="start" textLength="73.5" lengthAdjust="spacingAndGlyphs" >Degradation time</text>
<path d="M556.25,291.65 Q551.65,296.05 556.25,300.45" fill="none" stroke="#111" stroke-width="0.9"/>
<path d="M584.05,291.65 Q587.85,296.05 584.05,300.45" fill="none" stroke="#111" stroke-width="0.9"/>
<text x="558.3" y="300.1" font-size="12" fill="#111" text-anchor="start" textLength="23.3" lengthAdjust="spacingAndGlyphs" font-weight="normal">week</text>
<text x="497.4" y="319.2" font-size="14.5" fill="#111" text-anchor="start" textLength="18.8" lengthAdjust="spacingAndGlyphs" >(b)</text>
</svg>
</body></html>
